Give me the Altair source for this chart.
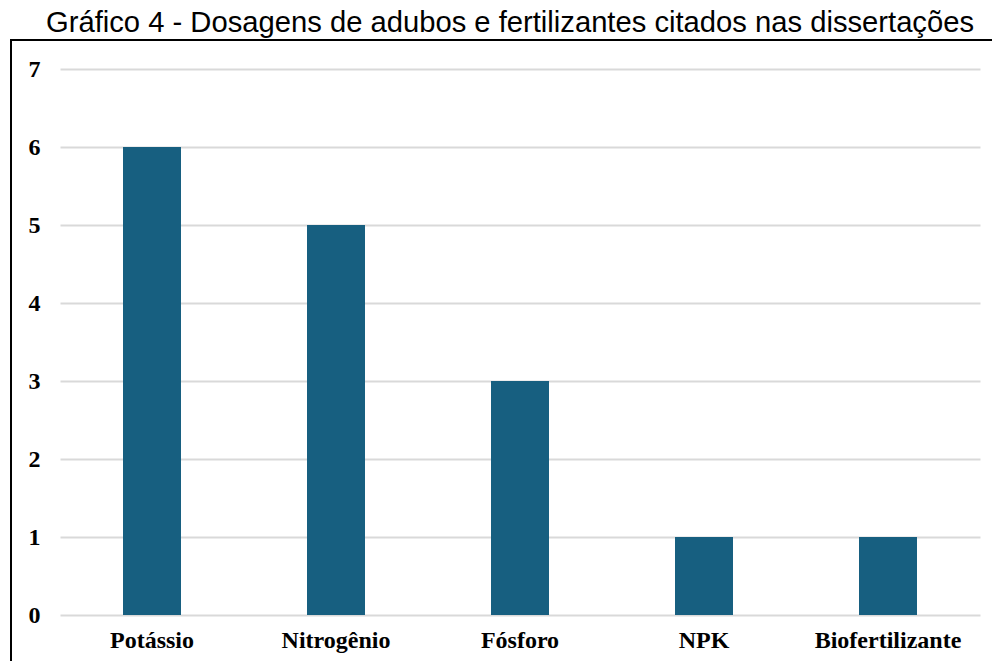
import altair as alt
import pandas as pd

categories = ["Potássio", "Nitrogênio", "Fósforo", "NPK", "Biofertilizante"]
values = [6, 5, 3, 1, 1]

df = pd.DataFrame({"cat": categories, "val": values})

W, H = 920, 546

bars = alt.Chart(df).mark_bar(color="#175f80", size=58).encode(
    x=alt.X("cat:N", sort=categories, title=None,
            scale=alt.Scale(paddingInner=0, paddingOuter=0),
            axis=alt.Axis(labelAngle=0, labelFont="Liberation Serif", labelFontWeight="bold",
                          labelFontSize=24, labelColor="black", ticks=False, domain=False,
                          labelPadding=13)),
    y=alt.Y("val:Q", title=None, scale=alt.Scale(domain=[0, 7], nice=False),
            axis=alt.Axis(values=list(range(8)), labelFont="Liberation Serif", labelFontWeight="bold",
                          labelFontSize=24, labelColor="black", ticks=False, domain=False,
                          labelPadding=20, gridColor="#d9d9d9", gridWidth=2)),
)

frame_data = alt.Data(values=[{}])
left_edge = alt.Chart(frame_data).mark_rule(color="black", strokeWidth=2).encode(
    x=alt.value(-49), y=alt.value(-30), y2=alt.value(700)
)
top_edge = alt.Chart(frame_data).mark_rule(color="black", strokeWidth=2).encode(
    x=alt.value(-50), x2=alt.value(1000), y=alt.value(-29)
)

chart = alt.layer(bars, left_edge, top_edge).properties(
    width=W, height=H,
    title=alt.TitleParams("Gráfico 4 - Dosagens de adubos e fertilizantes citados nas dissertações",
                          font="Liberation Sans", fontSize=29.2, fontWeight="normal", color="black",
                          anchor="middle", frame="group", dx=-10, offset=0),
    autosize=alt.AutoSizeParams(type="none"),
    padding={"left": 52, "top": 61, "right": 12, "bottom": 46},
).configure_view(stroke=None)

chart.save("out.html", embed_options={"renderer": "svg", "actions": False})
